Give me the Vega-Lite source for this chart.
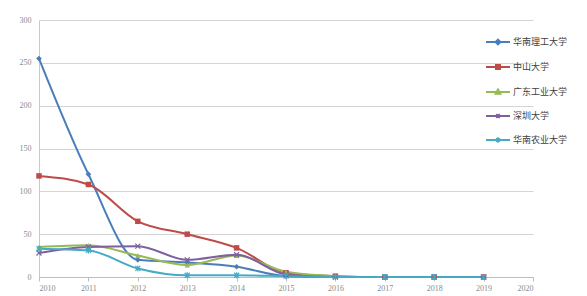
{
  "$schema": "https://vega.github.io/schema/vega-lite/v6.json",
  "width": 494,
  "height": 257,
  "autosize": {"type": "none"},
  "padding": {"left": 39, "top": 20, "right": 54, "bottom": 19},
  "config": {
    "view": {"stroke": null},
    "font": "Liberation Serif",
    "axis": {"labelFont": "Liberation Serif", "labelColor": "#8a8a8a", "labelFontSize": 8},
    "legend": {"labelFont": "Noto Sans CJK SC"}
  },
  "data": {
    "values": [
      {"year": 2010, "series": "华南理工大学", "value": 255},
      {"year": 2011, "series": "华南理工大学", "value": 120},
      {"year": 2012, "series": "华南理工大学", "value": 20},
      {"year": 2013, "series": "华南理工大学", "value": 17},
      {"year": 2014, "series": "华南理工大学", "value": 12},
      {"year": 2015, "series": "华南理工大学", "value": 1},
      {"year": 2016, "series": "华南理工大学", "value": 0},
      {"year": 2017, "series": "华南理工大学", "value": 0},
      {"year": 2018, "series": "华南理工大学", "value": 0},
      {"year": 2019, "series": "华南理工大学", "value": 0},
      {"year": 2010, "series": "中山大学", "value": 118},
      {"year": 2011, "series": "中山大学", "value": 108},
      {"year": 2012, "series": "中山大学", "value": 65},
      {"year": 2013, "series": "中山大学", "value": 50},
      {"year": 2014, "series": "中山大学", "value": 34},
      {"year": 2015, "series": "中山大学", "value": 5},
      {"year": 2016, "series": "中山大学", "value": 1},
      {"year": 2017, "series": "中山大学", "value": 0},
      {"year": 2018, "series": "中山大学", "value": 0},
      {"year": 2019, "series": "中山大学", "value": 0},
      {"year": 2010, "series": "广东工业大学", "value": 35},
      {"year": 2011, "series": "广东工业大学", "value": 37},
      {"year": 2012, "series": "广东工业大学", "value": 25},
      {"year": 2013, "series": "广东工业大学", "value": 14},
      {"year": 2014, "series": "广东工业大学", "value": 25},
      {"year": 2015, "series": "广东工业大学", "value": 6},
      {"year": 2016, "series": "广东工业大学", "value": 1},
      {"year": 2017, "series": "广东工业大学", "value": 0},
      {"year": 2018, "series": "广东工业大学", "value": 0},
      {"year": 2019, "series": "广东工业大学", "value": 0},
      {"year": 2010, "series": "深圳大学", "value": 28},
      {"year": 2011, "series": "深圳大学", "value": 35},
      {"year": 2012, "series": "深圳大学", "value": 36},
      {"year": 2013, "series": "深圳大学", "value": 20},
      {"year": 2014, "series": "深圳大学", "value": 26},
      {"year": 2015, "series": "深圳大学", "value": 3},
      {"year": 2016, "series": "深圳大学", "value": 0},
      {"year": 2017, "series": "深圳大学", "value": 0},
      {"year": 2018, "series": "深圳大学", "value": 0},
      {"year": 2019, "series": "深圳大学", "value": 0},
      {"year": 2010, "series": "华南农业大学", "value": 33},
      {"year": 2011, "series": "华南农业大学", "value": 31},
      {"year": 2012, "series": "华南农业大学", "value": 10},
      {"year": 2013, "series": "华南农业大学", "value": 2},
      {"year": 2014, "series": "华南农业大学", "value": 2},
      {"year": 2015, "series": "华南农业大学", "value": 1},
      {"year": 2016, "series": "华南农业大学", "value": 0},
      {"year": 2017, "series": "华南农业大学", "value": 0},
      {"year": 2018, "series": "华南农业大学", "value": 0},
      {"year": 2019, "series": "华南农业大学", "value": 0}
    ]
  },
  "encoding": {
    "x": {
      "field": "year",
      "type": "quantitative",
      "scale": {"domain": [2010, 2020], "nice": false, "zero": false},
      "axis": {
        "title": null,
        "values": [2010, 2011, 2012, 2013, 2014, 2015, 2016, 2017, 2018, 2019, 2020],
        "format": "d",
        "grid": false,
        "domainColor": "#bdbdbd",
        "tickColor": "#bdbdbd",
        "tickSize": 4,
        "labelPadding": 3
      }
    },
    "y": {
      "field": "value",
      "type": "quantitative",
      "scale": {"domain": [0, 300], "nice": false},
      "axis": {
        "title": null,
        "values": [0, 50, 100, 150, 200, 250, 300],
        "grid": true,
        "gridColor": "#d4d4d4",
        "domainColor": "#c8c8c8",
        "ticks": false,
        "labelPadding": 8
      }
    },
    "color": {
      "field": "series",
      "type": "nominal",
      "scale": {
        "domain": ["华南理工大学", "中山大学", "广东工业大学", "深圳大学", "华南农业大学"],
        "range": ["#4a7ebb", "#be4b48", "#98b954", "#7d60a0", "#46aac5"]
      },
      "legend": null
    }
  },
  "layer": [
    {
      "mark": {"type": "line", "interpolate": "monotone", "strokeWidth": 2},
      "encoding": {
        "color": {
          "field": "series",
          "type": "nominal",
          "legend": {
            "orient": "none",
            "legendX": 446,
            "legendY": 9,
            "title": null,
            "symbolType": "stroke",
            "symbolSize": 576,
            "symbolStrokeWidth": 2,
            "rowPadding": 5,
            "labelFontSize": 9,
            "labelColor": "#404040",
            "labelOffset": 2,
            "encode": {
              "symbols": {
                "update": {
                  "shape": {"signal": "datum.value === '华南理工大学' ? 'M-1,0H1M0,-0.2L0.2,0L0,0.2L-0.2,0Z' : datum.value === '中山大学' ? 'M-1,0H1M-0.17,-0.17H0.17V0.17H-0.17Z' : datum.value === '广东工业大学' ? 'M-1,0H1M0,-0.2L0.2,0.15L-0.2,0.15Z' : datum.value === '深圳大学' ? 'M-1,0H1M-0.15,-0.15L0.15,0.15M-0.15,0.15L0.15,-0.15' : 'M-1,0H1M-0.15,-0.15L0.15,0.15M-0.15,0.15L0.15,-0.15M0,-0.2V0.2'"},
                  "fill": {"scale": "color", "field": "value"},
                  "stroke": {"scale": "color", "field": "value"}
                }
              }
            }
          }
        }
      }
    },
    {
      "transform": [{"filter": "datum.series === '华南理工大学'"}],
      "mark": {"type": "point", "shape": "diamond", "filled": true, "size": 32, "opacity": 1}
    },
    {
      "transform": [{"filter": "datum.series === '中山大学'"}],
      "mark": {"type": "point", "shape": "square", "filled": true, "size": 30, "opacity": 1}
    },
    {
      "transform": [{"filter": "datum.series === '广东工业大学'"}],
      "mark": {"type": "point", "shape": "triangle-up", "filled": true, "size": 30, "opacity": 1}
    },
    {
      "transform": [{"filter": "datum.series === '深圳大学'"}],
      "mark": {"type": "point", "shape": "M-1,-1L1,1M-1,1L1,-1", "filled": false, "size": 25, "opacity": 1, "strokeWidth": 1.2}
    },
    {
      "transform": [{"filter": "datum.series === '华南农业大学'"}],
      "mark": {"type": "point", "shape": "M-1,-1L1,1M-1,1L1,-1M0,-1.2V1.2", "filled": false, "size": 25, "opacity": 1, "strokeWidth": 1.2}
    }
  ]
}
